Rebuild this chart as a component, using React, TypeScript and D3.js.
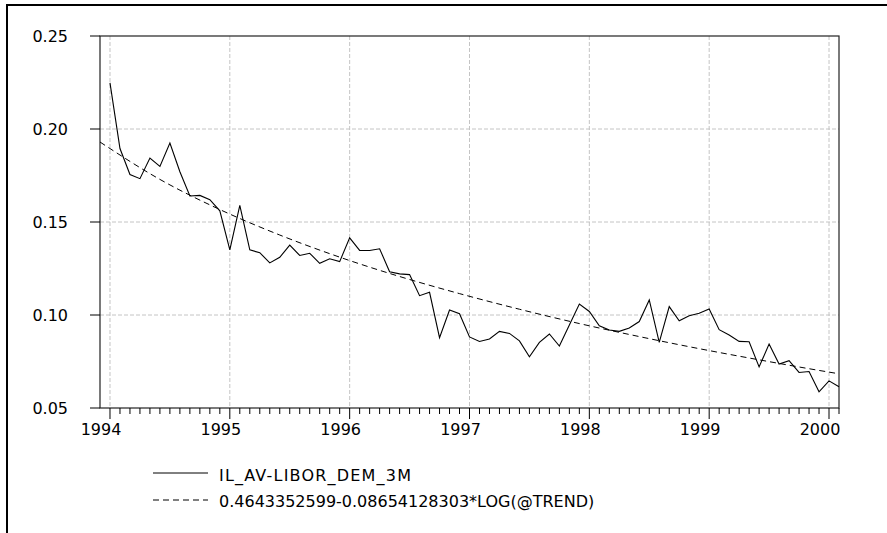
import React from "react";
import * as d3 from "d3";

// Monthly series IL_AV-LIBOR_DEM_3M, Jan 1994 .. Feb 2000
const rate = [
  0.2248, 0.1895, 0.1755, 0.1733, 0.1844, 0.1799, 0.1925, 0.177, 0.164, 0.1643, 0.162, 0.156,
  0.135, 0.1589, 0.135, 0.1335, 0.128, 0.131, 0.1376, 0.132, 0.1332, 0.1278, 0.1302, 0.1287,
  0.1415, 0.1347, 0.1347, 0.1356, 0.1233, 0.1221, 0.1217, 0.1104, 0.1122, 0.0878, 0.1027, 0.1007,
  0.0882, 0.0858, 0.0871, 0.0912, 0.0901, 0.0861, 0.0775, 0.0853, 0.0898, 0.0833, 0.0946, 0.1059,
  0.1019, 0.0942, 0.0919, 0.0912, 0.093, 0.0965, 0.1081, 0.0853, 0.1045, 0.0969, 0.0996, 0.1009,
  0.1032, 0.0921, 0.0892, 0.0858, 0.0856, 0.0721, 0.0844, 0.0736, 0.0754, 0.0691, 0.0696, 0.0587,
  0.0646, 0.0614,
];

// Fitted trend, read at month offsets from Jan 1994 (index 0)
const trendMonths = [-1, 5, 11, 17, 23, 29, 35, 41, 47, 53, 59, 65, 71, 73];
const trendValues = [
  0.193, 0.1729, 0.1567, 0.143, 0.1311, 0.1207, 0.1115, 0.1031, 0.0954, 0.0884, 0.0819, 0.0759,
  0.0702, 0.0684,
];

const yearLabels = ["1994", "1995", "1996", "1997", "1998", "1999", "2000"];
const yTicks = [0.05, 0.1, 0.15, 0.2, 0.25];
const yTickLabels = ["0.05", "0.10", "0.15", "0.20", "0.25"];
const legendLabels = ["IL_AV-LIBOR_DEM_3M", "0.4643352599-0.08654128303*LOG(@TREND)"];

const W = 887;
const H = 533;
const L = 100;
const R = 839;
const T = 36;
const B = 408;
const FONT = "'DejaVu Sans', sans-serif";

export default function App() {
  const x = d3.scaleLinear().domain([-1, rate.length - 1]).range([L, R]);
  const y = d3.scaleLinear().domain([0.05, 0.25]).range([B, T]);

  const line = d3
    .line<number>()
    .x((_, i) => x(i))
    .y((d) => y(d));
  const trendLine = d3
    .line<number>()
    .x((_, i) => x(trendMonths[i]))
    .y((d) => y(d))
    .curve(d3.curveMonotoneX);

  const monthTicks = d3.range(0, rate.length);
  const yearIdx = yearLabels.map((_, k) => k * 12);

  return (
    <svg
      width={W}
      height={H}
      style={{ position: "absolute", left: 0, top: 0, background: "#fff" }}
      fontFamily={FONT}
    >
      <rect x={0} y={0} width={W} height={H} fill="#fff" />
      {/* outer frame */}
      <rect x={7} y={5} width={920} height={620} fill="none" stroke="#000" strokeWidth={2} />

      {/* grid */}
      {yTicks.slice(1, 4).map((t) => (
        <line
          key={"gy" + t}
          x1={L}
          x2={R}
          y1={y(t)}
          y2={y(t)}
          stroke="#c4c4c4"
          strokeWidth={1}
          strokeDasharray="4,2"
        />
      ))}
      {yearIdx.map((m) => (
        <line
          key={"gx" + m}
          x1={x(m)}
          x2={x(m)}
          y1={T}
          y2={B}
          stroke="#c4c4c4"
          strokeWidth={1}
          strokeDasharray="4,2"
        />
      ))}

      {/* plot frame */}
      <rect x={L} y={T} width={R - L} height={B - T} fill="none" stroke="#222" strokeWidth={1.2} />

      {/* y axis */}
      {yTicks.map((t, k) => (
        <g key={"yt" + t}>
          <line x1={L - 10} x2={L} y1={y(t)} y2={y(t)} stroke="#000" />
          <text x={68} y={y(t)} dy="0.36em" textAnchor="end" fontSize={16} fill="#000">
            {yTickLabels[k]}
          </text>
        </g>
      ))}

      {/* x axis */}
      {monthTicks.map((m) => (
        <line
          key={"mt" + m}
          x1={x(m)}
          x2={x(m)}
          y1={B}
          y2={B + (m % 12 === 0 ? 11 : 6)}
          stroke="#000"
        />
      ))}
      {yearIdx.map((m, k) => (
        <text key={"yl" + m} x={x(m) - 9} y={435} textAnchor="middle" fontSize={16} fill="#000">
          {yearLabels[k]}
        </text>
      ))}

      {/* series */}
      <path d={trendLine(trendValues) || ""} fill="none" stroke="#000" strokeWidth={1} strokeDasharray="6,4" />
      <path d={line(rate) || ""} fill="none" stroke="#000" strokeWidth={1.1} />

      {/* legend */}
      <line x1={153} x2={208} y1={473} y2={473} stroke="#000" strokeWidth={1} />
      <text x={219} y={481} fontSize={16} letterSpacing={1.2} fill="#000">
        {legendLabels[0]}
      </text>
      <line x1={153} x2={208} y1={500} y2={500} stroke="#000" strokeWidth={1} strokeDasharray="6,4" />
      <text x={219} y={507} fontSize={16} fill="#000">
        {legendLabels[1]}
      </text>
    </svg>
  );
}
